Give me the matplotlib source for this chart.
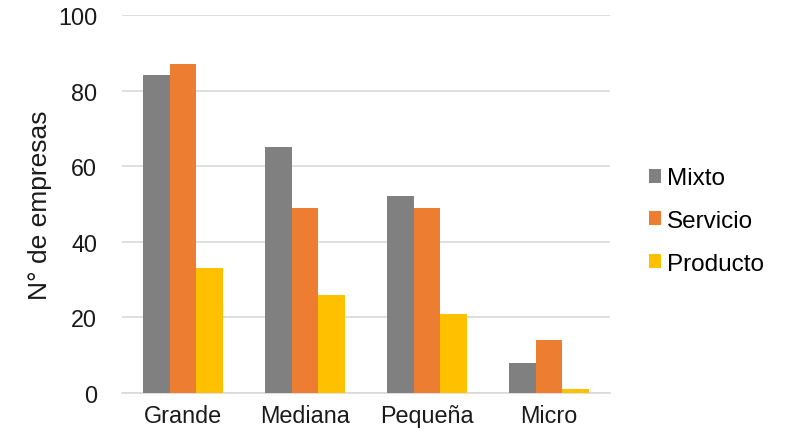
import matplotlib
matplotlib.use("Agg")
import matplotlib.pyplot as plt
import numpy as np
from matplotlib.patches import Patch

categories = ["Grande", "Mediana", "Pequeña", "Micro"]
series_names = ["Mixto", "Servicio", "Producto"]
mixto = [84, 65, 52, 8]
servicio = [87, 49, 49, 14]
producto = [33, 26, 21, 1]
colors = ["#808080", "#ED7D31", "#FFC000"]
yticks = [0, 20, 40, 60, 80, 100]

plt.rcParams['font.family'] = ['Liberation Sans', 'DejaVu Sans']

fig = plt.figure(figsize=(7.91, 4.35), dpi=100)
ax = fig.add_axes([122/791, 41/435, (610-122)/791, (394-16)/435])

x = np.arange(len(categories))
w = 0.22
for i, (vals, c) in enumerate(zip([mixto, servicio, producto], colors)):
    ax.bar(x + (i - 1) * w, vals, width=w, color=c, zorder=3, label=series_names[i])

ax.set_xlim(-0.5, len(categories) - 0.5)
ax.set_ylim(0, 100)
ax.set_yticks(yticks)
ax.set_xticks(x)
ax.set_xticklabels(categories)
ax.tick_params(axis='both', length=0, labelsize=16.8, colors='#1a1a1a')
ax.tick_params(axis='y', pad=18)
ax.tick_params(axis='x', pad=8)
ax.yaxis.grid(True, color='#d9d9d9', linewidth=1.2, zorder=0)
for s in ['top', 'right', 'left']:
    ax.spines[s].set_visible(False)
ax.spines['bottom'].set_color('#d9d9d9')
ax.spines['bottom'].set_linewidth(1.2)
ax.set_ylabel("N° de empresas", fontsize=19, color='#1a1a1a', labelpad=4)

handles = [Patch(facecolor=c, edgecolor='none') for c in colors]
fig.legend(handles, series_names, loc='center left', bbox_to_anchor=(627/791, 213/435),
           frameon=False, fontsize=17.5, handlelength=0.5, handleheight=0.5,
           handletextpad=0.25, labelspacing=0.85)

fig.savefig("out.png", dpi=100)
